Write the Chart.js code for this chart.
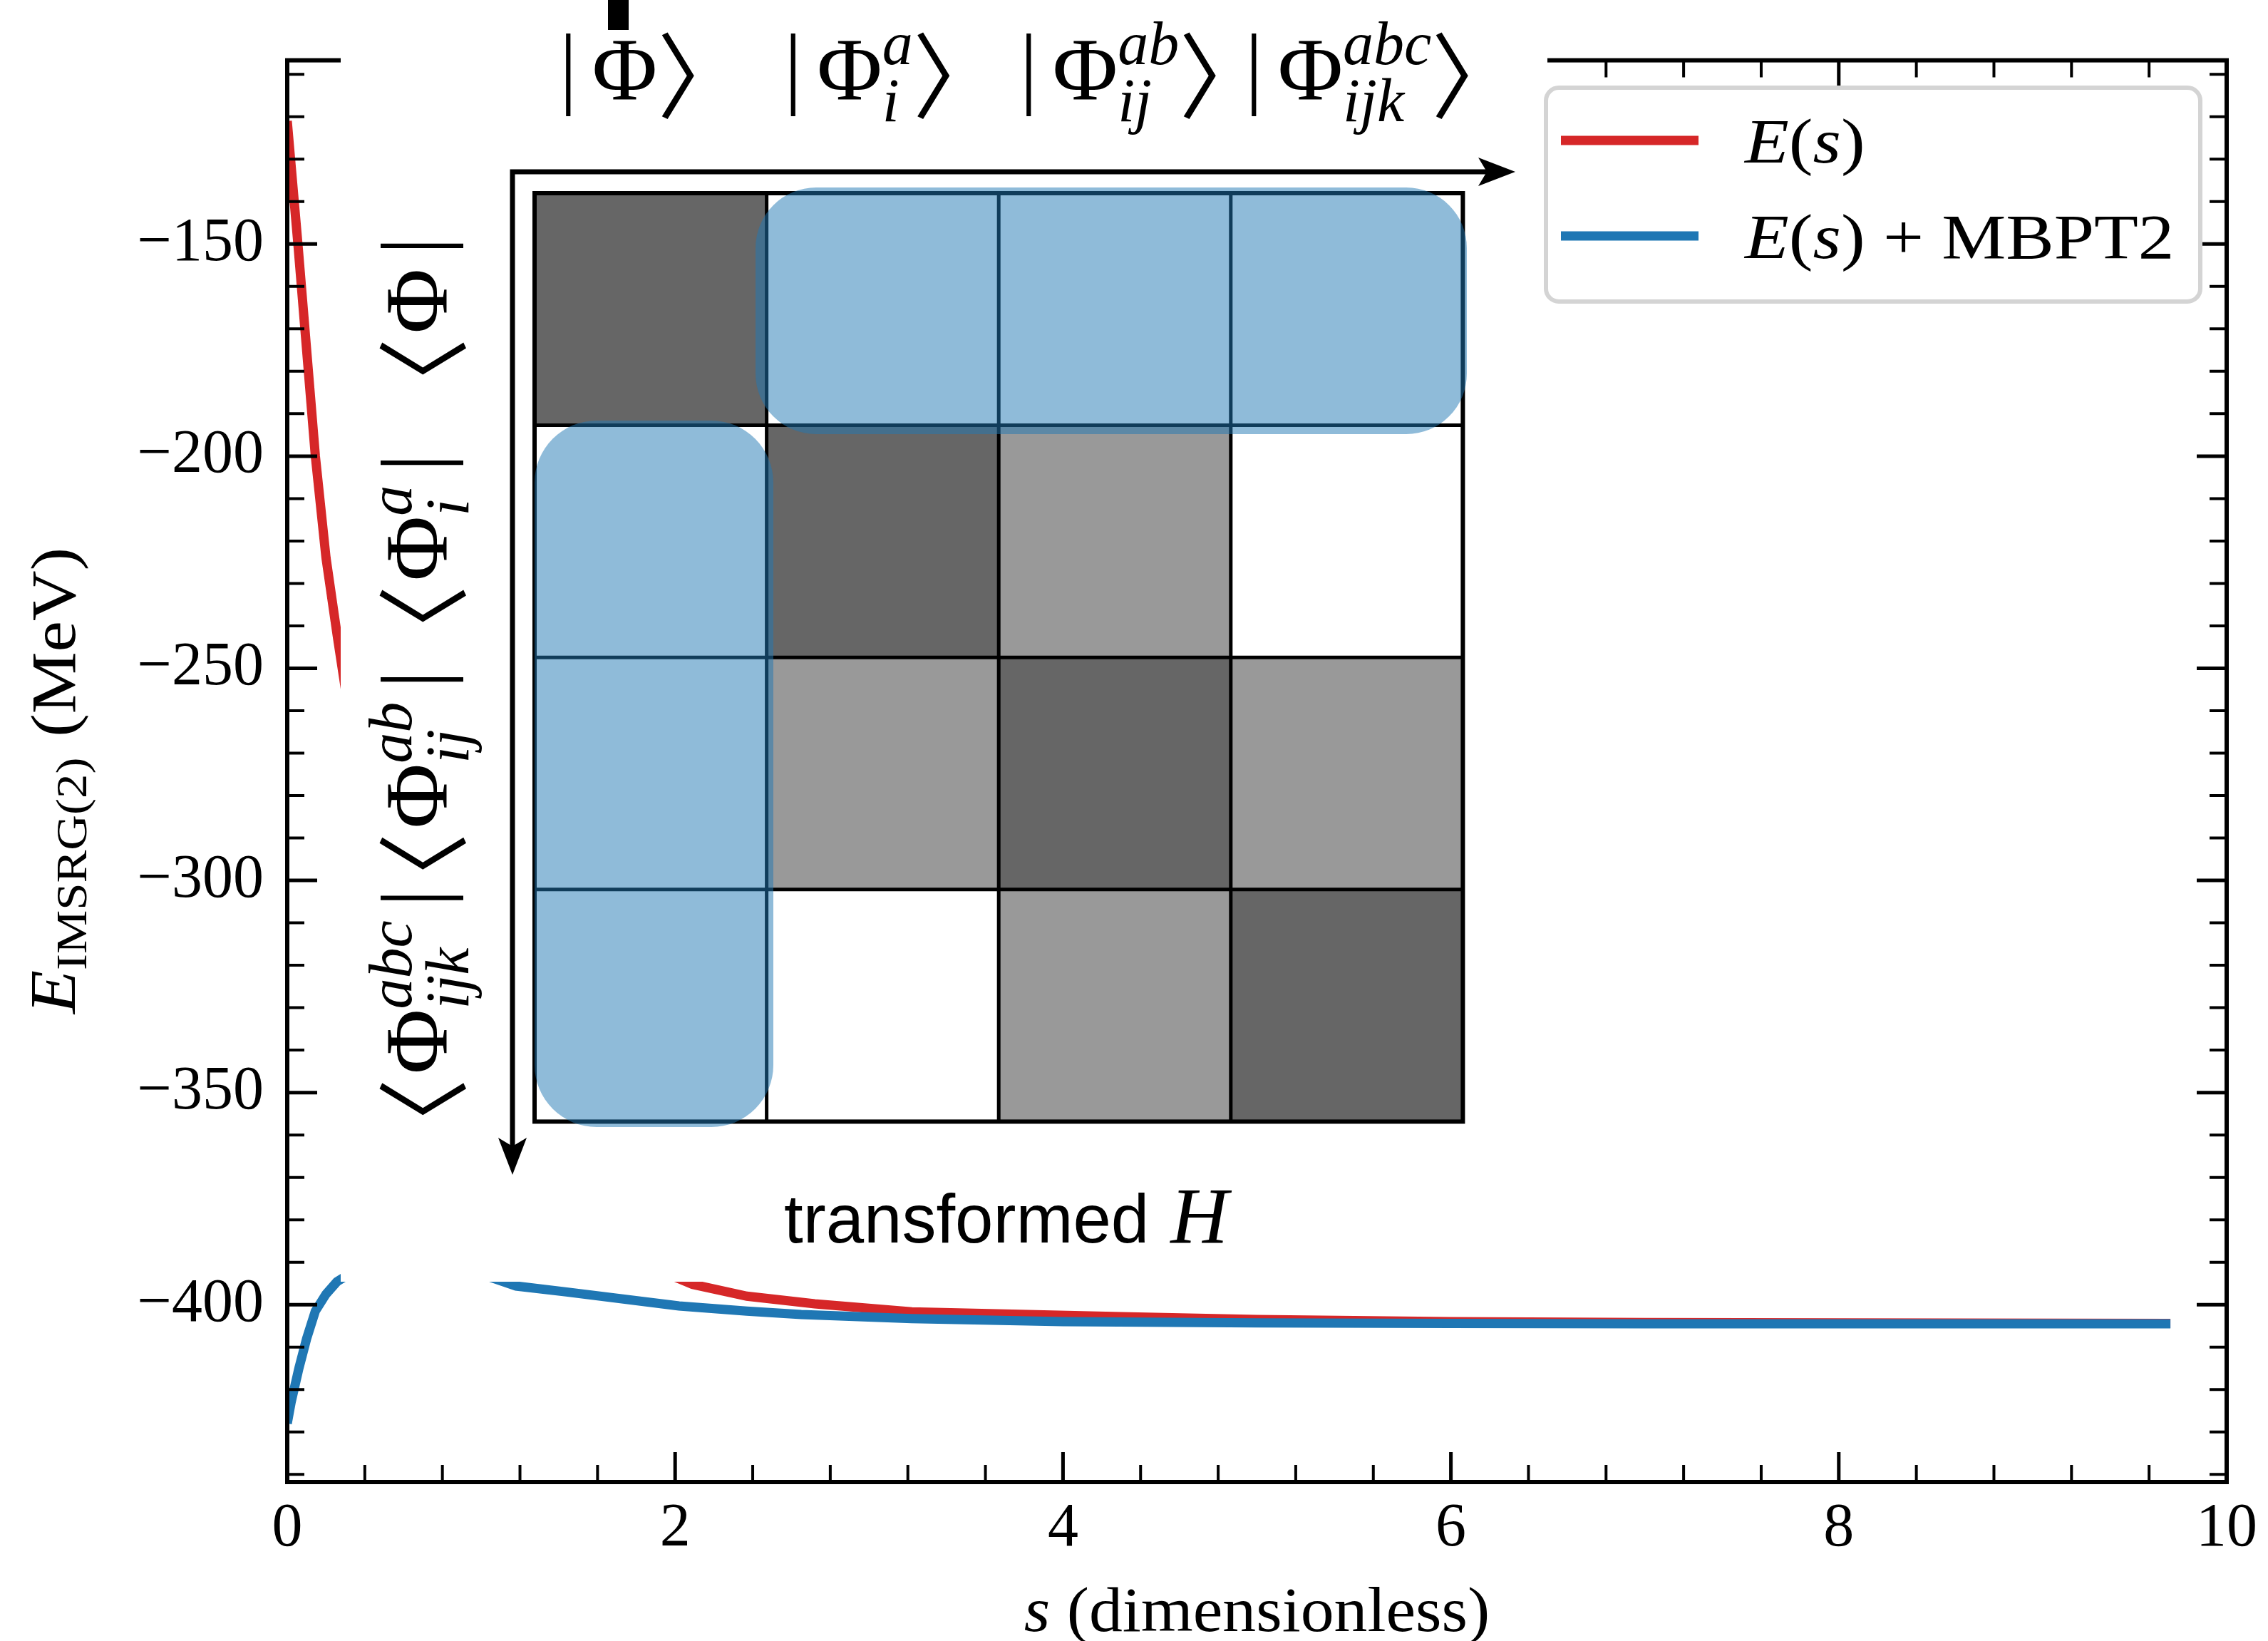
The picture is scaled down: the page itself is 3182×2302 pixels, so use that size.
<!DOCTYPE html>
<html>
<head>
<meta charset="utf-8">
<script src="https://cdn.jsdelivr.net/npm/chart.js@4.4.1/dist/chart.umd.min.js"></script>
<style>
html, body { margin: 0; padding: 0; background: #fff; }
#wrap { width: 3182px; height: 2302px; position: relative; }
</style>
</head>
<body>
<div id="wrap"><canvas id="myChart"></canvas></div>
<script>
// IMSRG(2) flow of the ground-state energy
var sRed  = [0, 0.055, 0.145, 0.2, 0.26, 0.35, 0.5, 0.75, 1.0, 1.5, 2.0, 2.09, 2.37, 2.72, 3.22, 4.3, 5, 6, 7, 8, 9.71];
var eRed  = [-121, -150, -200, -224, -243, -270, -305, -345, -365, -383, -393.5, -395.2, -398.0, -399.8, -401.7, -402.8, -403.5, -404.0, -404.2, -404.3, -404.4];
var sBlue = [0, 0.02, 0.06, 0.1, 0.145, 0.2, 0.256, 0.4, 0.6, 0.8, 1.0, 1.18, 1.44, 2.02, 2.37, 2.65, 3.22, 4, 5, 6, 7, 8, 9.71];
var eBlue = [-428, -423, -415, -408, -401.5, -397.5, -394.6, -390.5, -389, -390.5, -392.8, -395.6, -397, -400.3, -401.5, -402.3, -403.3, -404.0, -404.3, -404.4, -404.5, -404.5, -404.5];

var seriesLabels = ['E(s)', 'E(s) + MBPT2'];
var seriesColors = ['#d62728', '#1f77b4'];

var xTicks = [0, 2, 4, 6, 8, 10];
var yTicks = [-400, -350, -300, -250, -200, -150];
var xMinor = 0.4, yMinor = 10;

// inset matrix labels
var ketSup = ['', 'a', 'ab', 'abc'];
var ketSub = ['', 'i', 'ij', 'ijk'];
var cellShade = [
  ['#666666', '#ffffff', '#ffffff', '#ffffff'],
  ['#ffffff', '#666666', '#999999', '#ffffff'],
  ['#ffffff', '#999999', '#666666', '#999999'],
  ['#ffffff', '#ffffff', '#999999', '#666666']
];

const SERIF = "'Liberation Serif', 'DejaVu Serif', serif";
const SANS = "'Liberation Sans', Arial, sans-serif";
const CJK = "'Noto Sans CJK JP', 'Noto Sans CJK SC', sans-serif";

function toPts(xs, ys) { return xs.map((x, i) => ({x: x, y: ys[i]})); }

function partWidth(ctx, p) {
  if (p.gap) return p.gap;
  ctx.font = p.font;
  if (p.sup !== undefined) return Math.max(ctx.measureText(p.sup).width, ctx.measureText(p.sub).width);
  const m = ctx.measureText(p.t);
  if (p.tight) return m.actualBoundingBoxLeft + m.actualBoundingBoxRight;
  return m.width;
}

// draws a run of text pieces (math-like), hs = horizontal stretch
function drawParts(ctx, parts, x, y, align, hs) {
  hs = hs || 1;
  let w = 0;
  for (const p of parts) w += partWidth(ctx, p);
  const x0 = align === 'center' ? x - w * hs / 2 : (align === 'right' ? x - w * hs : x);
  ctx.save();
  ctx.translate(x0, y);
  ctx.scale(hs, 1);
  ctx.textAlign = 'left';
  ctx.textBaseline = 'alphabetic';
  let cx = 0;
  for (const p of parts) {
    const pw = partWidth(ctx, p);
    if (p.gap) { cx += pw; continue; }
    ctx.font = p.font;
    if (p.sup !== undefined) {
      ctx.fillText(p.sup, cx, p.supDy);
      ctx.fillText(p.sub, cx, p.subDy);
    } else if (p.tight) {
      const m = ctx.measureText(p.t);
      const asc = m.actualBoundingBoxAscent, desc = m.actualBoundingBoxDescent;
      const sy = p.h / (asc + desc);
      ctx.save();
      ctx.translate(cx + m.actualBoundingBoxLeft, p.c);
      ctx.scale(1, sy);
      ctx.fillText(p.t, 0, (asc - desc) / 2);
      ctx.restore();
    } else {
      ctx.fillText(p.t, cx, p.dy || 0);
    }
    cx += pw;
  }
  ctx.restore();
}

function braket(kind, sup, sub) {
  const big = '125px ' + SERIF, small = 'italic 86px ' + SERIF;
  const bar = {t: '|', font: big, tight: true, h: 115, c: -34};
  const core = [{t: '\u03A6', font: big}];
  if (sup) core.push({sup: sup, sub: sub, font: small, supDy: -50, subDy: 30});
  if (kind === 'ket') {
    return [bar, {gap: 30}].concat(core, [{gap: 6}, {t: '\u3009', font: '125px ' + CJK, tight: true, h: 122, c: -34}]);
  }
  return [{t: '\u3008', font: '125px ' + CJK, tight: true, h: 122, c: -34}, {gap: 12}].concat(core, [{gap: 28}, bar]);
}

function drawFrame(ctx, chart) {
  const a = chart.chartArea, xs = chart.scales.x, ys = chart.scales.y;
  ctx.strokeStyle = '#000';
  for (let k = 0; k <= Math.round(10 / xMinor); k++) {
    const v = k * xMinor, px = xs.getPixelForValue(v);
    const major = k % 5 === 0, len = major ? 42 : 24;
    ctx.lineWidth = major ? 5 : 4;
    ctx.beginPath();
    ctx.moveTo(px, a.bottom); ctx.lineTo(px, a.bottom - len);
    ctx.moveTo(px, a.top); ctx.lineTo(px, a.top + len);
    ctx.stroke();
  }
  for (let v = Math.ceil(ys.min / yMinor) * yMinor; v <= ys.max; v += yMinor) {
    const py = ys.getPixelForValue(v);
    const major = v % 50 === 0, len = major ? 42 : 24;
    ctx.lineWidth = major ? 5 : 4;
    ctx.beginPath();
    ctx.moveTo(a.left, py); ctx.lineTo(a.left + len, py);
    ctx.moveTo(a.right, py); ctx.lineTo(a.right - len, py);
    ctx.stroke();
  }
  ctx.lineWidth = 6;
  ctx.strokeRect(a.left, a.top, a.right - a.left, a.bottom - a.top);
}

function arrowHead(ctx, tipX, tipY, dir) {
  ctx.beginPath();
  if (dir === 'right') {
    ctx.moveTo(tipX, tipY); ctx.lineTo(tipX - 52, tipY - 20);
    ctx.lineTo(tipX - 40, tipY); ctx.lineTo(tipX - 52, tipY + 20);
  } else {
    ctx.moveTo(tipX, tipY); ctx.lineTo(tipX - 20, tipY - 52);
    ctx.lineTo(tipX, tipY - 40); ctx.lineTo(tipX + 20, tipY - 52);
  }
  ctx.closePath();
  ctx.fill();
}

function drawInset(ctx) {
  ctx.fillStyle = '#fff';
  ctx.fillRect(478, 0, 2171 - 478, 1798);
  ctx.fillStyle = '#000';
  ctx.fillRect(853, 0, 29, 42);

  const x0 = 750, y0 = 271, c = 325.6;
  const ketX = [884, 1221, 1573, 1908];
  for (let i = 0; i < 4; i++) drawParts(ctx, braket('ket', ketSup[i], ketSub[i]), ketX[i], 140, 'center');
  for (let i = 0; i < 4; i++) {
    ctx.save();
    ctx.translate(627, y0 + c * (i + 0.5));
    ctx.rotate(-Math.PI / 2);
    drawParts(ctx, braket('bra', ketSup[i], ketSub[i]), 0, 0, 'center');
    ctx.restore();
  }
  ctx.strokeStyle = '#000';
  ctx.fillStyle = '#000';
  ctx.lineWidth = 7;
  ctx.beginPath();
  ctx.moveTo(2090, 241); ctx.lineTo(719, 241); ctx.lineTo(719, 1612);
  ctx.stroke();
  arrowHead(ctx, 2126, 241, 'right');
  arrowHead(ctx, 719, 1648, 'down');

  for (let r = 0; r < 4; r++) for (let q = 0; q < 4; q++) {
    ctx.fillStyle = cellShade[r][q];
    ctx.fillRect(x0 + q * c, y0 + r * c, c, c);
  }
  ctx.lineWidth = 5;
  ctx.strokeStyle = '#000';
  ctx.beginPath();
  for (let k = 0; k <= 4; k++) {
    ctx.moveTo(x0 + k * c, y0); ctx.lineTo(x0 + k * c, y0 + 4 * c);
    ctx.moveTo(x0, y0 + k * c); ctx.lineTo(x0 + 4 * c, y0 + k * c);
  }
  ctx.stroke();
  ctx.lineWidth = 6;
  ctx.strokeRect(x0, y0, 4 * c, 4 * c);

  ctx.fillStyle = 'rgba(31,119,180,0.5)';
  ctx.beginPath(); ctx.roundRect(1060, 263, 2058 - 1060, 609 - 263, 85); ctx.fill();
  ctx.beginPath(); ctx.roundRect(750, 590, 1085 - 750, 1581 - 590, 87); ctx.fill();

  ctx.fillStyle = '#000';
  drawParts(ctx, [{t: 'transformed', font: '96px ' + SANS}, {gap: 30}, {t: 'H', font: 'italic 112px ' + SERIF}], 1100, 1743, 'left');
}

function drawLegend(ctx) {
  ctx.fillStyle = '#fff';
  ctx.strokeStyle = '#d4d4d4';
  ctx.lineWidth = 6;
  ctx.beginPath(); ctx.roundRect(2169, 123, 918, 300, 18); ctx.fill(); ctx.stroke();
  const it = 'italic 88px ' + SERIF, up = '88px ' + SERIF;
  const texts = [
    [{t: 'E', font: it}, {t: '(', font: up}, {t: 's', font: it}, {t: ')', font: up}],
    [{t: 'E', font: it}, {t: '(', font: up}, {t: 's', font: it}, {t: ')', font: up}, {t: ' + MBPT2', font: up}]
  ];
  for (let i = 0; i < seriesLabels.length; i++) {
    const y = 197 + i * 134;
    ctx.strokeStyle = seriesColors[i];
    ctx.lineWidth = 13;
    ctx.beginPath(); ctx.moveTo(2190, y); ctx.lineTo(2383, y); ctx.stroke();
    ctx.fillStyle = '#000';
    drawParts(ctx, texts[i], 2448, y + 31, 'left', 1.15);
  }
}

function drawTitles(ctx, chart) {
  const a = chart.chartArea;
  ctx.fillStyle = '#000';
  drawParts(ctx, [{t: 's', font: 'italic 88px ' + SERIF}, {t: ' (dimensionless)', font: '88px ' + SERIF}], (a.left + a.right) / 2, 2288, 'center', 1.065);
  ctx.save();
  ctx.translate(105, 1095);
  ctx.rotate(-Math.PI / 2);
  drawParts(ctx, [{t: 'E', font: 'italic 90px ' + SERIF}, {t: 'IMSRG(2)', font: '62px ' + SERIF, dy: 16}, {gap: 26}, {t: '(MeV)', font: '88px ' + SERIF}], 0, 0, 'center', 1.11);
  ctx.restore();
}

const insetPlugin = {
  id: 'inset',
  afterDatasetsDraw(chart) {
    const ctx = chart.ctx;
    ctx.save();
    drawFrame(ctx, chart);
    drawInset(ctx);
    drawLegend(ctx);
    drawTitles(ctx, chart);
    ctx.restore();
  }
};

new Chart('myChart', {
  type: 'line',
  data: {
    datasets: [
      { label: seriesLabels[0], data: toPts(sRed, eRed), borderColor: seriesColors[0], borderWidth: 13, pointRadius: 0, order: 1, clip: 0 },
      { label: seriesLabels[1], data: toPts(sBlue, eBlue), borderColor: seriesColors[1], borderWidth: 13, pointRadius: 0, order: 0, clip: 0 }
    ]
  },
  options: {
    responsive: true,
    maintainAspectRatio: false,
    devicePixelRatio: 1,
    animation: false,
    layout: { padding: { left: 0, top: 82, right: 54, bottom: 0 } },
    plugins: { legend: { display: false }, tooltip: { enabled: false } },
    scales: {
      x: {
        type: 'linear', min: 0, max: 10,
        grid: { display: false, drawTicks: false },
        border: { display: false },
        afterBuildTicks: (s) => { s.ticks = xTicks.map(v => ({value: v})); },
        afterFit: (s) => { s.height = 223; },
        ticks: { color: '#000', padding: 15, maxRotation: 0, autoSkip: false, font: { family: SERIF, size: 86 } }
      },
      y: {
        type: 'linear', min: -441.8, max: -106.7,
        grid: { display: false, drawTicks: false },
        border: { display: false },
        afterBuildTicks: (s) => { s.ticks = yTicks.map(v => ({value: v})); },
        afterFit: (s) => { s.width = 403; },
        ticks: { color: '#000', padding: 33, autoSkip: false, font: { family: SERIF, size: 86 },
          callback: (v) => String(v).replace('-', '\u2212') }
      }
    }
  },
  plugins: [insetPlugin]
});
</script>
</body>
</html>
